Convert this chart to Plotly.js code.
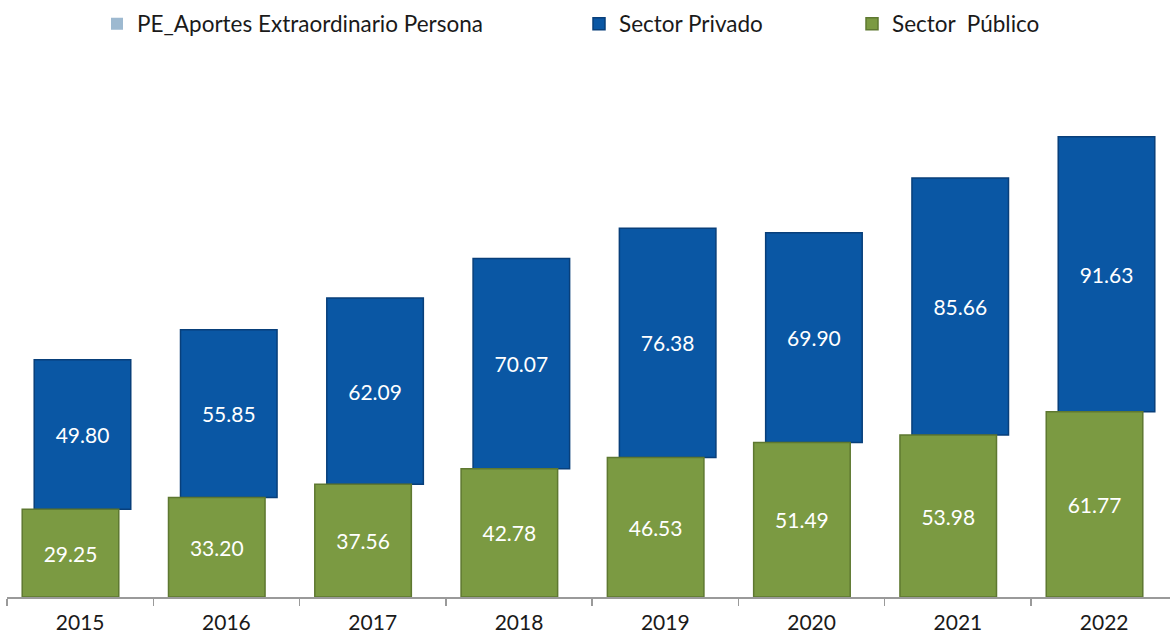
<!DOCTYPE html>
<html>
<head>
<meta charset="utf-8">
<script src="https://cdn.plot.ly/plotly-3.0.1.min.js"></script>
<style>
html,body{margin:0;padding:0;background:#fff;}
#chart{width:1170px;height:634px;}
</style>
</head>
<body>
<div id="chart"></div>
<script>
const years = ['2015','2016','2017','2018','2019','2020','2021','2022'];
const sectorPublico = [29.25, 33.20, 37.56, 42.78, 46.53, 51.49, 53.98, 61.77];
const sectorPrivado = [49.80, 55.85, 62.09, 70.07, 76.38, 69.90, 85.66, 91.63];
const peAportes = [0, 0, 0, 0, 0, 0, 0, 0];

const FONT = 'Lato, "Open Sans", "Liberation Sans", sans-serif';
const fmt = v => v.toFixed(2);

const traces = [
  {
    type: 'bar', name: 'PE_Aportes Extraordinario Persona',
    x: years, y: peAportes, base: sectorPublico.map((v, i) => v + sectorPrivado[i]),
    width: 0.66, offset: -0.314,
    marker: {color: '#9DB9D0', line: {color: '#7C9BB5', width: 0}},
    hoverinfo: 'skip', legend: 'legend'
  },
  {
    type: 'bar', name: 'Sector Privado',
    x: years, y: sectorPrivado, base: sectorPublico,
    width: 0.66, offset: -0.314,
    marker: {color: '#0A57A4', line: {color: '#083F7A', width: 1.5}},
    text: sectorPrivado.map(fmt), textposition: 'inside', insidetextanchor: 'middle',
    textfont: {family: FONT, size: 21, color: '#ffffff'},
    legend: 'legend2'
  },
  {
    type: 'bar', name: 'Sector  Público',
    x: years, y: sectorPublico, base: 0,
    width: 0.66, offset: -0.396,
    marker: {color: '#7B9A42', line: {color: '#5E7830', width: 1.5}},
    text: sectorPublico.map(fmt), textposition: 'inside', insidetextanchor: 'middle',
    textfont: {family: FONT, size: 21, color: '#ffffff'},
    legend: 'legend3'
  }
];

const legBase = {
  orientation: 'h', xref: 'container', yref: 'container', yanchor: 'middle', xanchor: 'left',
  y: 1 - 24/634, bgcolor: 'rgba(0,0,0,0)',
  font: {family: FONT, size: 22.5, color: '#1a1a1a'}, itemwidth: 30
};

const layout = {
  width: 1170, height: 634,
  margin: {l: 7, r: 0, t: 60, b: 37},
  paper_bgcolor: '#ffffff', plot_bgcolor: '#ffffff',
  barmode: 'overlay',
  font: {family: FONT},
  xaxis: {
    type: 'category', range: [-0.5, 7.45],
    showline: true, linecolor: '#9a9a9a', linewidth: 1.5,
    ticks: 'outside', tickson: 'boundaries', ticklen: 7, tickcolor: '#9a9a9a', tickwidth: 1.5,
    ticklabelstandoff: 6,
    tickfont: {family: FONT, size: 21, color: '#1a1a1a'},
    showgrid: false, zeroline: false, fixedrange: true
  },
  yaxis: {
    range: [0, 179], visible: false, showgrid: false, zeroline: false, fixedrange: true
  },
  showlegend: true,
  legend: Object.assign({}, legBase, {x: 97/1170}),
  legend2: Object.assign({}, legBase, {x: 579/1170}),
  legend3: Object.assign({}, legBase, {x: 852/1170})
};

Plotly.newPlot('chart', traces, layout, {displayModeBar: false, staticPlot: true});
</script>
</body>
</html>
